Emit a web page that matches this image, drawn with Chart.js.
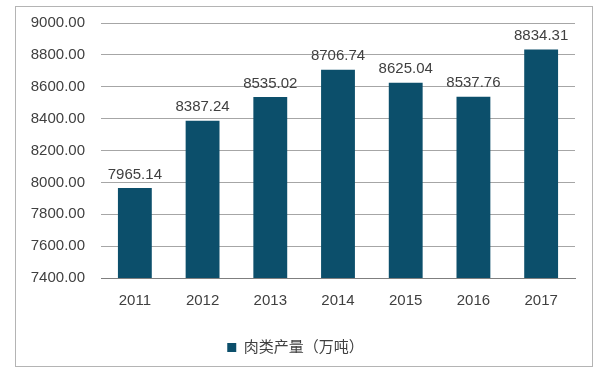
<!DOCTYPE html>
<html><head><meta charset="utf-8">
<script src="https://cdn.jsdelivr.net/npm/chart.js@4.4.0/dist/chart.umd.min.js"></script>
<style>
html,body{margin:0;padding:0;background:#fff;}
#box{position:absolute;left:15px;top:6px;width:576px;height:359px;border:1px solid #b4b4b4;background:#fff;}
canvas{display:block;}
</style></head>
<body>
<div id="box"><canvas id="c" width="576" height="359"></canvas></div>
<script>
const categories = ['2011','2012','2013','2014','2015','2016','2017'];
const meatOutput = [7965.14, 8387.24, 8535.02, 8706.74, 8625.04, 8537.76, 8834.31];
const seriesName = '肉类产量（万吨）';
const yMin = 7400, yMax = 9000, yStep = 200;

const FONT = "'Liberation Sans', Arial, 'Noto Sans CJK SC', sans-serif";

const valueLabels = {
  id: 'valueLabels',
  afterDatasetsDraw(chart) {
    const ctx = chart.ctx;
    const meta = chart.getDatasetMeta(0);
    ctx.save();
    ctx.font = '15px ' + FONT;
    ctx.fillStyle = '#404040';
    ctx.textAlign = 'center';
    ctx.textBaseline = 'bottom';
    meta.data.forEach((bar, i) => {
      ctx.fillText(meatOutput[i].toFixed(2), bar.x, bar.y - 6);
    });
    ctx.restore();
  }
};

new Chart(document.getElementById('c'), {
  type: 'bar',
  data: {
    labels: categories,
    datasets: [{
      label: seriesName,
      data: meatOutput,
      backgroundColor: '#0C4F6B',
      borderWidth: 0,
      barPercentage: 0.5,
      categoryPercentage: 1.0
    }]
  },
  options: {
    responsive: false,
    animation: false,
    devicePixelRatio: 1,
    layout: { padding: { top: 16, right: 17, bottom: 1, left: 0 } },
    plugins: {
      tooltip: { enabled: false },
      legend: {
        position: 'bottom',
        labels: {
          boxWidth: 9, boxHeight: 9, padding: 10,
          color: '#404040',
          font: { size: 15, family: FONT }
        }
      }
    },
    scales: {
      x: {
        grid: { display: false, drawTicks: false },
        border: { display: true, color: '#7f7f7f', width: 1 },
        ticks: { color: '#404040', font: { size: 15, family: FONT }, padding: 14 },
        afterFit(s) { s.height = 52; }
      },
      y: {
        min: yMin, max: yMax,
        grid: { color: '#a6a6a6', drawTicks: true, tickLength: 16, tickColor: 'rgba(0,0,0,0)', lineWidth: 1 },
        border: { display: false },
        ticks: {
          stepSize: yStep,
          color: '#404040',
          font: { size: 15, family: FONT },
          padding: 0,
          callback: v => Number(v).toFixed(2)
        },
        afterFit(s) { s.width = 85; }
      }
    }
  },
  plugins: [valueLabels]
});
</script>
</body></html>
